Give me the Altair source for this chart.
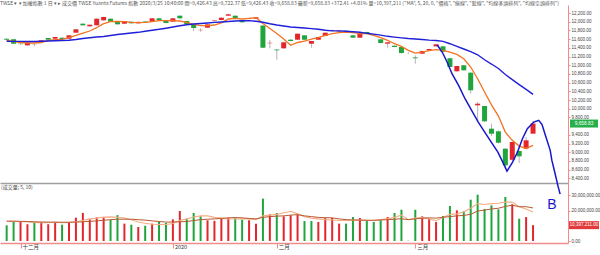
import altair as alt
import pandas as pd

FONT = "Liberation Sans"
CJK = "Noto Sans CJK TC"
RED = "#e3262b"
GREEN = "#1fa53c"
AXIS_RED = "#f08c8c"
BLUE = "#1f1fd8"
ORANGE = "#f27322"

header = ('TWSE ▾ ▾ 加權指數  1 日 ▾ ▸ 成交價  TWSE  Yuanta Futures 指數  2020/3/25  10:40:00  '
          '開=9,426.43  高=9,722.37  低=9,426.43  收=9,658.83  最新=9,658.83  +372.41  +4.01%  '
          '量=10,397,211  ("MA", 5, 20, 0, "價格", "綠線", "藍線", "均線多頭排列", "均線空頭排列")')

opens = [11610, 11595, 11495, 11457, 11478, 11540, 11625, 11609, 11632, 11609,
         11747, 11954, 11894, 11917, 12032, 12069, 11993, 11954, 12000, 11963,
         12005, 12000, 12078, 12016, 12000, 12138, 12016, 11945, 11805, 11862,
         12015, 12039, 12138, 12138, 12039, 12062, 12070, 11911, 11505, 11360,
         11388, 11586, 11586, 11687, 11494, 11586, 11671, 11790, 11775, 11790,
         11687, 11632, 11763, 11700, 11595, 11494, 11448, 11418, 11280, 11180,
         11264, 11342, 11434, 11434, 11160, 10860, 10998, 10828, 10078, 10062,
         9541, 9480, 9081, 8827, 9028, 9081, 9426.43]
highs = [11620, 11600, 11500, 11520, 11500, 11580, 11630, 11655, 11640, 11690,
         11830, 11965, 11935, 12075, 12115, 12075, 12000, 12020, 12005, 12000,
         12010, 12085, 12090, 12020, 12085, 12145, 12020, 11950, 11850, 11945,
         12035, 12100, 12180, 12145, 12045, 12090, 12110, 11920, 11579, 11370,
         11530, 11600, 11730, 11690, 11560, 11655, 11755, 11820, 11800, 11800,
         11700, 11730, 11770, 11710, 11600, 11530, 11455, 11425, 11300, 11227,
         11335, 11380, 11490, 11440, 11170, 10990, 11005, 10835, 10154, 10070,
         9655, 9500, 9090, 9240, 9040, 9350, 9722.37]
lows = [11575, 11490, 11470, 11450, 11440, 11535, 11580, 11600, 11595, 11600,
        11740, 11910, 11885, 11910, 12025, 11995, 11935, 11950, 11958, 11955,
        11970, 11995, 12025, 11965, 11995, 12070, 11935, 11786, 11770, 11855,
        12005, 12035, 12130, 12055, 11980, 12055, 12065, 11395, 11388, 11126,
        11380, 11550, 11580, 11580, 11402, 11580, 11665, 11780, 11770, 11755,
        11625, 11625, 11718, 11680, 11505, 11402, 11410, 11270, 11260, 11034,
        11255, 11335, 11425, 11300, 10950, 10850, 10875, 10345, 9694, 9700,
        9372, 9200, 8658, 8800, 8751, 9060, 9426.43]
closes = [11586, 11494, 11485, 11517, 11482, 11572, 11586, 11648, 11602, 11687,
          11825, 11917, 11931, 12069, 12108, 12000, 11940, 12016, 11963, 11997,
          11975, 12078, 12032, 11970, 12078, 12078, 11940, 11855, 11812, 11940,
          12028, 12092, 12170, 12062, 11986, 12085, 12100, 11402, 11515, 11342,
          11526, 11556, 11724, 11586, 11556, 11648, 11747, 11805, 11795, 11765,
          11632, 11724, 11724, 11690, 11510, 11526, 11418, 11280, 11280, 11160,
          11326, 11372, 11480, 11310, 10959, 10982, 10883, 10423, 10115, 9710,
          9425, 9218, 8698, 9234, 8905, 9273, 9658.83]
ma5 = [11568, 11545, 11522, 11510, 11510, 11522, 11572, 11586, 11595, 11632,
       11687, 11740, 11786, 11862, 11954, 12000, 12009, 12000, 11986, 11977,
       11986, 12000, 12023, 12023, 12023, 12016, 11986, 11940, 11908, 11908,
       11924, 11975, 12062, 12078, 12062, 12078, 12092, 11958, 11844, 11729,
       11602, 11457, 11522, 11556, 11602, 11632, 11687, 11724, 11747, 11763,
       11747, 11724, 11724, 11687, 11632, 11572, 11494, 11434, 11342, 11280,
       11303, 11333, 11356, 11342, 11303, 11250, 11149, 10958, 10689, 10383,
       10089, 9831, 9463, 9272, 9141, 9088, 9157]
ma20 = [11549, 11547, 11547, 11545, 11545, 11549, 11556, 11561, 11568, 11574,
        11590, 11613, 11632, 11648, 11660, 11683, 11706, 11722, 11740, 11756,
        11779, 11804, 11825, 11850, 11878, 11906, 11929, 11947, 11959, 11970,
        11984, 11993, 12005, 12016, 12023, 12025, 12009, 11986, 11952, 11924,
        11901, 11878, 11867, 11855, 11841, 11825, 11804, 11790, 11790, 11779,
        11768, 11756, 11733, 11715, 11692, 11664, 11646, 11629, 11613, 11602,
        11590, 11577, 11568, 11549, 11494, 11434, 11372, 11310, 11240, 11125,
        11027, 10924, 10785, 10670, 10555, 10445, 10330]

# volume in millions of shares
volume_m = [10.3, 12.5, 12.5, 11.0, 12.5, 12.5, 11.0, 12.5, 10.7, 12.5,
            15.3, 18.4, 14.2, 15.5, 15.5, 14.0, 17.0, 11.4, 10.7, 9.2,
            10.0, 11.4, 12.5, 11.8, 14.2, 19.7, 14.6, 18.4, 16.2, 13.6,
            13.2, 14.9, 15.3, 15.0, 14.0, 13.6, 11.4, 27.8, 17.5, 18.4,
            16.2, 16.9, 17.5, 13.1, 13.1, 12.5, 15.1, 15.1, 11.4, 11.4,
            15.7, 15.1, 13.1, 12.5, 14.0, 15.7, 18.4, 20.5, 0.3, 20.5,
            16.2, 14.6, 12.5, 16.4, 23.0, 20.1, 19.5, 27.1, 30.4, 21.0,
            23.4, 20.8, 28.9, 24.1, 14.6, 15.7, 10.397211]
vol_dir = ["g", "g", "r", "r", "g", "r", "r", "r", "g", "r",
           "r", "r", "r", "r", "r", "g", "g", "r", "g", "r",
           "g", "r", "g", "g", "r", "r", "g", "g", "g", "r",
           "r", "r", "r", "g", "g", "r", "r", "g", "r", "g",
           "r", "r", "r", "g", "g", "r", "r", "r", "r", "g",
           "g", "r", "g", "g", "g", "r", "g", "g", "n", "g",
           "r", "r", "r", "g", "g", "r", "g", "g", "g", "g",
           "g", "g", "g", "r", "g", "r", "r"]
vol_ma5_m = [13.0, 13.0, 12.8, 12.5, 12.2, 12.0, 12.0, 12.3, 12.0, 12.2,
             12.6, 13.5, 14.5, 15.0, 15.7, 15.8, 15.6, 15.0, 14.0, 12.5,
             11.7, 11.0, 10.8, 10.8, 11.5, 13.5, 14.5, 15.8, 16.5, 16.5,
             15.5, 15.0, 14.5, 14.4, 14.5, 14.5, 14.0, 16.5, 17.0, 17.5,
             18.5, 19.5, 17.8, 16.0, 15.0, 14.5, 14.0, 13.8, 13.5, 13.5,
             13.7, 13.8, 13.6, 13.5, 14.0, 14.5, 15.5, 17.0, 14.0, 15.0,
             15.5, 14.5, 13.3, 15.5, 17.5, 17.8, 19.0, 21.5, 24.5, 24.0,
             24.5, 24.8, 25.5, 25.5, 22.5, 21.0, 19.0]
vol_ma10_m = [13.0, 13.0, 12.9, 12.8, 12.6, 12.5, 12.4, 12.4, 12.3, 12.3,
              12.4, 12.6, 12.9, 13.2, 13.6, 14.0, 14.3, 14.3, 14.3, 14.0,
              13.7, 13.2, 12.8, 12.4, 12.5, 12.6, 12.8, 13.4, 14.0, 14.3,
              14.5, 14.8, 15.2, 15.4, 15.2, 14.8, 14.5, 15.5, 16.0, 16.3,
              16.5, 17.0, 17.3, 16.5, 16.0, 15.5, 15.3, 15.2, 14.5, 14.0,
              13.8, 13.7, 13.6, 13.6, 13.8, 14.0, 14.3, 14.6, 14.0, 14.5,
              15.0, 15.2, 15.0, 15.6, 16.0, 16.5, 16.8, 17.5, 19.7, 20.3,
              21.0, 21.5, 22.7, 23.5, 22.5, 22.5, 21.7]

# hand-drawn annotation path (bar index, price)
draw_i = [62.17, 62.88, 63.59, 64.3, 65.25, 66.18, 67.13, 68.09, 69.02, 69.97,
          70.92, 71.63, 72.24, 73.05, 73.76, 74.47, 75.18, 76.11, 76.82, 77.3,
          77.77, 78.48, 78.72, 79.19, 79.57, 79.91]
draw_p = [11464, 11303, 11073, 10804, 10537, 10229, 9962, 9693, 9463, 9233,
          9003, 8773, 8566, 8773, 9003, 9309, 9539, 9693, 9732, 9636,
          9394, 9042, 8812, 8504, 8244, 8037]

tick_idx = [2, 24, 39, 59]
tick_lbl = ["十二月", "2020", "二月", "三月"]
# the 9,600 and 10,000,000 labels sit under the last-value tags
price_ticks = [v for v in range(8400, 12201, 200) if v != 9600]
vol_ticks = [0, 20000000, 30000000]

n = len(closes)
df = pd.DataFrame({"i": list(range(n)), "open": opens, "high": highs, "low": lows,
                   "close": closes, "ma5": ma5, "ma20": ma20,
                   "vol": [v * 1e6 for v in volume_m], "vdir": vol_dir,
                   "vma5": [v * 1e6 for v in vol_ma5_m], "vma10": [v * 1e6 for v in vol_ma10_m]})
df["dir"] = ["up" if c > o else ("down" if c < o else "flat") for o, c in zip(opens, closes)]
draw_df = pd.DataFrame({"i": draw_i, "p": draw_p, "k": list(range(len(draw_i)))})

W = 568
x_scale = alt.Scale(domain=[-0.241, 80.326], nice=False, zero=False)
price_scale = alt.Scale(domain=[8292, 12384], nice=False, zero=False)
vol_scale = alt.Scale(domain=[-1310000, 38060000], nice=False, zero=False)

x_price_axis = alt.Axis(title=None, labels=False, ticks=False, grid=False,
                        domainColor="#a0a0a0", domainWidth=1.5)
label_expr = " : ".join(f"datum.value == {t} ? '{l}'" for t, l in zip(tick_idx, tick_lbl)) + " : ''"
x_vol_axis = alt.Axis(title=None, values=tick_idx, labelExpr=label_expr, grid=False,
                      domainColor=AXIS_RED, domainWidth=1.5, tickColor=AXIS_RED, tickSize=5,
                      labelAlign="left", labelBaseline="top", labelPadding=-4, labelOffset=1.5,
                      labelFontSize=5.5, labelFont=CJK, labelColor="#333", labelFlush=False)
y_price_axis = alt.Axis(orient="right", values=price_ticks, format=",.2f", title=None, grid=False,
                        labelFontSize=4.5, labelColor="#444", labelFont=FONT, domainColor=AXIS_RED,
                        tickColor=AXIS_RED, tickSize=2, labelPadding=1, minExtent=10)
y_vol_axis = alt.Axis(orient="right", values=vol_ticks, format=",.2f", title=None, grid=False,
                      labelFontSize=4.5, labelColor="#444", labelFont=FONT, domainColor=AXIS_RED,
                      tickColor=AXIS_RED, tickSize=2, labelPadding=1, minExtent=10)

px = alt.X("i:Q", scale=x_scale, axis=x_price_axis)
vx = alt.X("i:Q", scale=x_scale, axis=x_vol_axis)


def py(field):
    return alt.Y(f"{field}:Q", scale=price_scale, axis=y_price_axis)


def vy(field):
    return alt.Y(f"{field}:Q", scale=vol_scale, axis=y_vol_axis)


base = alt.Chart(df)
wicks = base.mark_rule(color="#b5b5b5", strokeWidth=1).encode(x=px, y=py("low"), y2="high")
bodies = base.mark_bar(size=5).encode(
    x=px, y=py("open"), y2="close",
    color=alt.Color("dir:N", scale=alt.Scale(domain=["up", "down", "flat"],
                                             range=[RED, GREEN, "#aaaaaa"]), legend=None))
line5 = base.mark_line(color=ORANGE, strokeWidth=1.3).encode(x=px, y=py("ma5"))
line20 = base.mark_line(color=BLUE, strokeWidth=1.4).encode(x=px, y=py("ma20"))
drawn = alt.Chart(draw_df).mark_line(color="#1717cc", strokeWidth=1.5, clip=False).encode(
    x=alt.X("i:Q", scale=x_scale, axis=x_price_axis),
    y=alt.Y("p:Q", scale=price_scale, axis=y_price_axis), order="k:Q")

tag_df = pd.DataFrame({"v": [closes[-1]], "t": [f"{closes[-1]:,.2f}"]})
tag_box = alt.Chart(tag_df).mark_tick(color="#27b04a", thickness=8, size=28, orient="horizontal",
                                      opacity=1).encode(x=alt.value(W + 16), y=alt.Y("v:Q", scale=price_scale, axis=y_price_axis))
tag_txt = alt.Chart(tag_df).mark_text(color="white", fontSize=4.8, font=FONT).encode(
    x=alt.value(W + 16), y=alt.Y("v:Q", scale=price_scale, axis=y_price_axis), text="t:N")

price = alt.layer(wicks, bodies, line5, line20, drawn, tag_box, tag_txt).properties(width=W, height=178)

vbars = base.mark_bar(size=2).encode(
    x=vx, y=vy("vol"), y2=alt.datum(0),
    color=alt.Color("vdir:N", scale=alt.Scale(domain=["r", "g", "n"],
                                              range=["#e02f2f", "#26aa43", "#aaaaaa"]), legend=None))
vline5 = base.mark_line(color="#f6ad84", strokeWidth=1.1).encode(x=vx, y=vy("vma5"))
vline10 = base.mark_line(color="#b85a32", strokeWidth=1.0).encode(x=vx, y=vy("vma10"))

vtag_df = pd.DataFrame({"v": [volume_m[-1] * 1e6], "t": [f"{volume_m[-1] * 1e6:,.2f}"]})
vtag_box = alt.Chart(vtag_df).mark_tick(color="#e03a3a", thickness=8, size=30, orient="horizontal",
                                        opacity=1).encode(x=alt.value(W + 16), y=vy("v"))
vtag_txt = alt.Chart(vtag_df).mark_text(color="white", fontSize=4.5, font=FONT).encode(
    x=alt.value(W + 16), y=vy("v"), text="t:N")

b_df = pd.DataFrame({"i": [78.73], "v": [23400000], "t": ["B"]})
b_txt = alt.Chart(b_df).mark_text(color="#1717cc", fontSize=14, font=FONT).encode(
    x=vx, y=vy("v"), text="t:N")
vlabel = alt.Chart(b_df).mark_text(color="#444", fontSize=5, font=CJK, align="left",
                                   baseline="middle").encode(
    x=alt.value(1), y=alt.value(3.5), text=alt.value("(成交量; 5, 10)"))

vol = alt.layer(vbars, vline5, vline10, vtag_box, vtag_txt, b_txt, vlabel).properties(width=W, height=60)

chart = alt.vconcat(price, vol, spacing=0, bounds="flush").properties(
    padding=0,
    title=alt.TitleParams(text=header, anchor="start", fontSize=5, font=CJK, color="#555",
                          fontWeight="normal", offset=2, limit=598, dy=2.5)
).configure_view(stroke=None).configure_concat(spacing=0)

chart.save("out.html", embed_options={"renderer": "svg", "actions": False})
